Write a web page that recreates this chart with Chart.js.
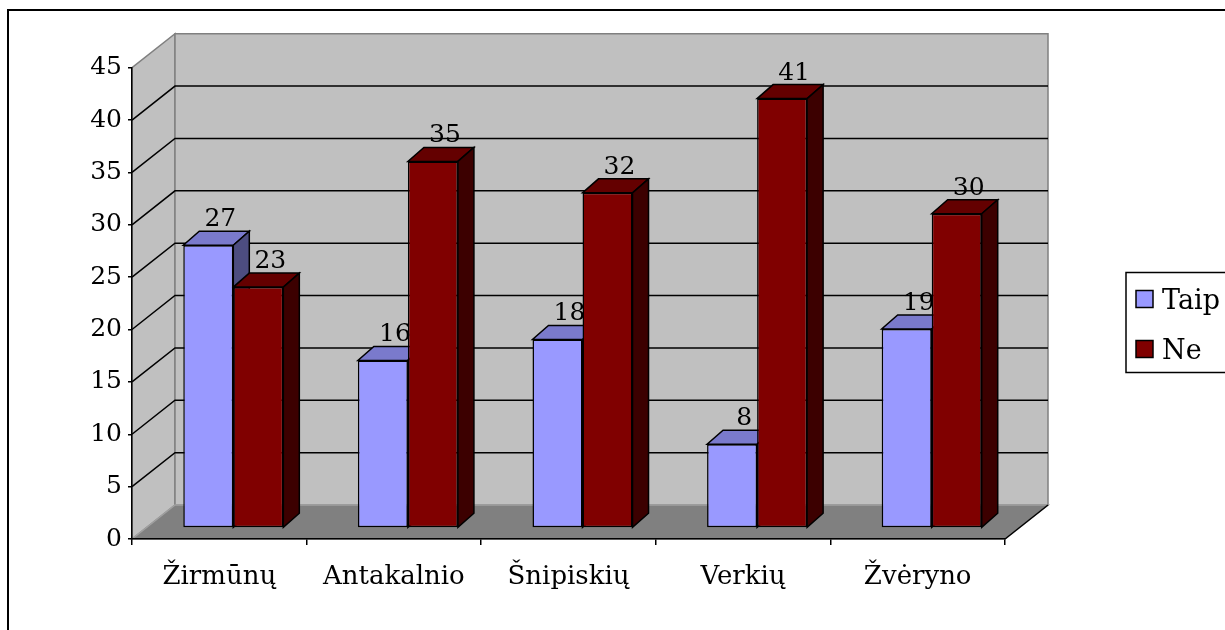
<!DOCTYPE html>
<html>
<head>
<meta charset="utf-8">
<script src="https://cdn.jsdelivr.net/npm/chart.js@4.4.0/dist/chart.umd.min.js"></script>
<style>
html,body{margin:0;padding:0;background:#fff;}
#wrap{width:1225px;height:630px;position:relative;}
canvas{display:block;}
</style>
</head>
<body>
<div id="wrap"><canvas id="c" width="1225" height="630"></canvas></div>
<script>
// ---- data ----
const categories = ['Žirmūnų', 'Antakalnio', 'Šnipiskių', 'Verkių', 'Žvėryno'];
const seriesNames = ['Taip', 'Ne'];
const taipValues = [27, 16, 18, 8, 19];
const neValues = [23, 35, 32, 41, 30];
const yMin = 0, yMax = 45, yStep = 5;

// ---- styling ----
const FONT = "'DejaVu Serif', 'Liberation Serif', serif";
const colors = {
  front: ['#9999ff', '#800000'],
  top:   ['#7a7acc', '#640000'],
  side:  ['#4d4d80', '#3c0000']
};
const WALL_D = {x: 43, y: -34};   // depth of the chart box
const BAR_SHIFT = {x: 14, y: -11}; // bar front plane position inside the box
const BAR_D = {x: 16, y: -14};    // depth of each bar

function poly(ctx, pts, fill, stroke, lw) {
  ctx.beginPath();
  ctx.moveTo(pts[0][0], pts[0][1]);
  for (let i = 1; i < pts.length; i++) ctx.lineTo(pts[i][0], pts[i][1]);
  ctx.closePath();
  if (fill) { ctx.fillStyle = fill; ctx.fill(); }
  if (stroke) { ctx.strokeStyle = stroke; ctx.lineWidth = lw || 1; ctx.stroke(); }
}

const box3d = {
  id: 'box3d',
  beforeDraw(chart) {
    const ctx = chart.ctx, a = chart.chartArea, ys = chart.scales.y;
    ctx.save();
    ctx.fillStyle = '#fff';
    ctx.fillRect(0, 0, chart.width, chart.height);
    // outer frame (top and left visible)
    ctx.strokeStyle = '#000'; ctx.lineWidth = 2;
    ctx.beginPath(); ctx.moveTo(8, 640); ctx.lineTo(8, 10); ctx.lineTo(1230, 10); ctx.stroke();
    const L = a.left, R = a.right, y0 = ys.getPixelForValue(yMin), yT = ys.getPixelForValue(yMax);
    const dx = WALL_D.x, dy = WALL_D.y;
    // left wall
    poly(ctx, [[L, y0], [L, yT], [L + dx, yT + dy], [L + dx, y0 + dy]], '#c0c0c0', '#808080', 1.5);
    // back wall
    poly(ctx, [[L + dx, yT + dy], [R + dx, yT + dy], [R + dx, y0 + dy], [L + dx, y0 + dy]], '#c0c0c0', '#808080', 1.5);
    // floor
    poly(ctx, [[L, y0], [R, y0], [R + dx, y0 + dy], [L + dx, y0 + dy]], '#808080', '#a0a0a0', 1.5);
    ctx.strokeStyle = '#000'; ctx.lineWidth = 1.5;
    ctx.beginPath(); ctx.moveTo(R, y0); ctx.lineTo(R + dx, y0 + dy); ctx.stroke();
    // gridlines
    ctx.strokeStyle = '#000'; ctx.lineWidth = 1.5;
    for (let v = yMin + yStep; v < yMax; v += yStep) {
      const y = ys.getPixelForValue(v);
      ctx.beginPath();
      ctx.moveTo(L, y); ctx.lineTo(L + dx, y + dy); ctx.lineTo(R + dx, y + dy);
      ctx.stroke();
    }
    ctx.restore();
  },
  beforeDatasetsDraw(chart) {
    const ctx = chart.ctx;
    ctx.save();
    ctx.translate(BAR_SHIFT.x, BAR_SHIFT.y);
    // draw top and side faces first; fronts drawn by Chart.js over them
    const n = categories.length;
    for (let i = 0; i < n; i++) {
      for (let d = 0; d < chart.data.datasets.length; d++) {
        const el = chart.getDatasetMeta(d).data[i];
        const l = el.x - el.width / 2, r = el.x + el.width / 2, t = el.y, b = el.base;
        poly(ctx, [[l, t], [r, t], [r + BAR_D.x, t + BAR_D.y], [l + BAR_D.x, t + BAR_D.y]], colors.top[d], '#000', 1.5);
        poly(ctx, [[r, t], [r + BAR_D.x, t + BAR_D.y], [r + BAR_D.x, b + BAR_D.y], [r, b]], colors.side[d], '#000', 1.5);
      }
    }
  },
  afterDatasetsDraw(chart) {
    const ctx = chart.ctx;
    ctx.restore();
    ctx.save();
    ctx.font = '25px ' + FONT;
    ctx.fillStyle = '#000';
    ctx.textAlign = 'center';
    ctx.textBaseline = 'alphabetic';
    chart.data.datasets.forEach((ds, d) => {
      chart.getDatasetMeta(d).data.forEach((el, i) => {
        ctx.fillText(String(ds.data[i]), el.x + BAR_SHIFT.x + 12, el.y + BAR_SHIFT.y - 19);
      });
    });
    ctx.restore();
  },
  afterDraw(chart) {
    const ctx = chart.ctx;
    ctx.save();
    // legend
    ctx.strokeStyle = '#000'; ctx.lineWidth = 1.5;
    ctx.strokeRect(1126, 272.5, 110, 100);
    const rows = [299, 349];
    ctx.font = '27px ' + FONT;
    ctx.textBaseline = 'alphabetic';
    ctx.textAlign = 'left';
    chart.data.datasets.forEach((ds, d) => {
      const cy = rows[d];
      ctx.fillStyle = colors.front[d];
      ctx.fillRect(1136, cy - 8.5, 17, 17);
      ctx.strokeStyle = '#000'; ctx.lineWidth = 1.5;
      ctx.strokeRect(1136, cy - 8.5, 17, 17);
      ctx.fillStyle = '#000';
      ctx.fillText(ds.label, 1162, cy + 10);
    });
    ctx.restore();
  }
};

new Chart(document.getElementById('c'), {
  type: 'bar',
  data: {
    labels: categories,
    datasets: [
      {label: seriesNames[0], data: taipValues, backgroundColor: colors.front[0]},
      {label: seriesNames[1], data: neValues, backgroundColor: colors.front[1]}
    ]
  },
  options: {
    responsive: false,
    devicePixelRatio: 1,
    animation: false,
    events: [],
    layout: {padding: {left: 0, right: 220, top: 67.7, bottom: 0}},
    datasets: {
      bar: {
        borderColor: '#000',
        borderWidth: 1.5,
        borderSkipped: false,
        categoryPercentage: 0.573,
        barPercentage: 1,
        clip: false
      }
    },
    plugins: {legend: {display: false}, tooltip: {enabled: false}},
    scales: {
      x: {
        grid: {display: true, drawOnChartArea: false, drawTicks: true, tickLength: 6, color: '#000', lineWidth: 1.5, offset: true},
        border: {display: true, color: '#000', width: 1.5},
        ticks: {color: '#000', font: {family: FONT, size: 26}, padding: 17, maxRotation: 0, autoSkip: false},
        afterFit(s) { s.height = 91; }
      },
      y: {
        min: yMin, max: yMax,
        grid: {display: true, drawOnChartArea: false, drawTicks: true, tickLength: 4, color: '#000', lineWidth: 1.5},
        border: {display: true, color: '#000', width: 1.5},
        ticks: {stepSize: yStep, color: '#000', font: {family: FONT, size: 25}, padding: 6},
        afterFit(s) { s.width = 132; }
      }
    }
  },
  plugins: [box3d]
});
</script>
</body>
</html>
